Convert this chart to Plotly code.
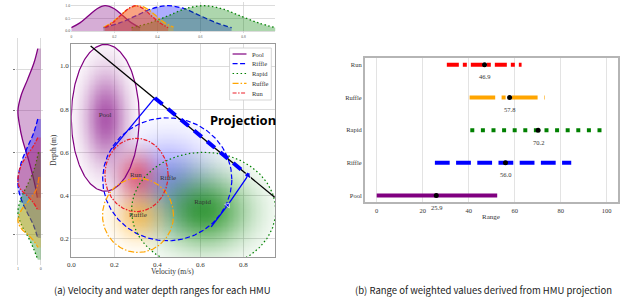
import numpy as np
import plotly.graph_objects as go

W, H = 643, 302
SERIF = "Liberation Serif"

# ---------------- data ----------------
hmu_names = ["Pool", "Riffle", "Rapid", "Ruffle", "Run"]
hmu_rgb = [(128, 0, 128), (0, 0, 255), (0, 128, 0), (255, 165, 0), (235, 30, 40)]
hmu_dash_small = ["solid", "5px,2.5px", "1.5px,2.5px", "6px,2px,1.5px,2px", "4px,1.5px,1.5px,1.5px"]

# ellipse (velocity-depth range) parameters
ell_cx = [0.158, 0.446, 0.615, 0.310, 0.303]
ell_cy = [0.760, 0.475, 0.330, 0.308, 0.495]
ell_rx = [0.158, 0.300, 0.335, 0.165, 0.147]
ell_ry = [0.340, 0.285, 0.270, 0.172, 0.170]
grad_alpha = [0.65, 0.40, 0.75, 0.55, 0.55]
label_x = [0.157, 0.450, 0.610, 0.310, 0.300]
label_y = [0.770, 0.480, 0.370, 0.310, 0.495]

# top marginal (velocity) curves
top_x = [
    [0.00, 0.04, 0.08, 0.12, 0.157, 0.20, 0.24, 0.28, 0.32],
    [0.15, 0.225, 0.30, 0.375, 0.45, 0.525, 0.60, 0.675, 0.745],
    [0.28, 0.365, 0.45, 0.53, 0.615, 0.70, 0.785, 0.87, 0.95],
    [0.15, 0.19, 0.23, 0.27, 0.31, 0.35, 0.39, 0.43, 0.475],
    [0.157, 0.195, 0.23, 0.265, 0.30, 0.335, 0.37, 0.41, 0.45],
]
top_v = [
    [0.13, 0.32, 0.60, 0.88, 1.00, 0.88, 0.60, 0.32, 0.13],
    [0.13, 0.32, 0.60, 0.88, 1.00, 0.88, 0.60, 0.32, 0.13],
    [0.13, 0.32, 0.60, 0.88, 1.00, 0.88, 0.60, 0.32, 0.13],
    [0.15, 0.35, 0.63, 0.89, 1.00, 0.89, 0.63, 0.35, 0.15],
    [0.14, 0.35, 0.62, 0.88, 1.00, 0.88, 0.62, 0.33, 0.13],
]

# left marginal (depth) curves
left_y = [
    [1.10, 1.03, 0.95, 0.87, 0.80, 0.73, 0.66, 0.58, 0.50, 0.44, 0.38],
    [0.76, 0.69, 0.62, 0.54, 0.45, 0.38, 0.31, 0.25, 0.185],
    [0.60, 0.52, 0.45, 0.38, 0.31, 0.25, 0.19, 0.13, 0.08],
    [0.48, 0.42, 0.37, 0.32, 0.27, 0.23, 0.20, 0.17, 0.14],
    [0.67, 0.63, 0.585, 0.53, 0.46, 0.42, 0.39, 0.355, 0.32],
]
left_v = [
    [0.13, 0.30, 0.58, 0.87, 1.00, 0.93, 0.80, 0.58, 0.38, 0.25, 0.15],
    [0.13, 0.32, 0.60, 0.88, 1.00, 0.88, 0.60, 0.33, 0.13],
    [0.10, 0.28, 0.55, 0.85, 1.00, 0.85, 0.55, 0.30, 0.13],
    [0.08, 0.20, 0.50, 0.85, 1.00, 0.85, 0.55, 0.30, 0.12],
    [0.13, 0.32, 0.60, 0.88, 1.00, 0.88, 0.60, 0.32, 0.13],
]

# projection line and riffle projection
proj_x = [0.090, 0.945]
proj_y = [1.093, 0.392]
riffle_seg_x = [0.388, 0.822]
riffle_seg_y = [0.852, 0.493]
riffle_perp1_x = [0.192, 0.388]
riffle_perp1_y = [0.617, 0.852]
riffle_perp2_x = [0.650, 0.727, 0.822]
riffle_perp2_y = [0.255, 0.355, 0.493]

# right panel: weighted value ranges
range_cats = ["Pool", "Riffle", "Rapid", "Ruffle", "Run"]
range_lo = [0.0, 25.3, 40.7, 40.4, 30.5]
range_hi = [52.4, 84.6, 99.6, 73.0, 63.0]
range_mean = [25.9, 56.0, 70.2, 57.8, 46.9]
range_dash = ["solid", "14.8px,6.4px", "4px,6.6px", "25.6px,6.4px,4px,6.4px", "12px,4px,4px,4px"]
range_colors = ["purple", "blue", "green", "orange", "red"]


def rgba(c, a):
    return f"rgba({c[0]},{c[1]},{c[2]},{a})"


def px(x):
    return x / W


def py(y):
    return 1 - y / H


fig = go.Figure()

# ---------- gradients ----------
gx = np.linspace(0, 0.95, 170)
gy = np.linspace(0.05, 1.15, 190)
GX, GY = np.meshgrid(gx, gy)
for i, n in enumerate(hmu_names):
    r2 = ((GX - ell_cx[i]) / ell_rx[i]) ** 2 + ((GY - ell_cy[i]) / ell_ry[i]) ** 2
    z = np.where(r2 <= 1, np.exp(-2.6 * r2), 0.0)
    fig.add_trace(go.Heatmap(
        x=gx, y=gy, z=z, zmin=0, zmax=1, zsmooth="best", showscale=False,
        colorscale=[[0, rgba(hmu_rgb[i], 0)], [1, rgba(hmu_rgb[i], grad_alpha[i])]],
        hoverinfo="skip", xaxis="x", yaxis="y"))

# ---------- ellipse outlines ----------
th = np.linspace(0, 2 * np.pi, 240)
for i, n in enumerate(hmu_names):
    fig.add_trace(go.Scatter(
        x=ell_cx[i] + ell_rx[i] * np.cos(th), y=ell_cy[i] + ell_ry[i] * np.sin(th),
        mode="lines", line=dict(color=rgba(hmu_rgb[i], 1), width=1.2, dash=hmu_dash_small[i]),
        showlegend=False, hoverinfo="skip", xaxis="x", yaxis="y"))

fig.add_trace(go.Scatter(x=label_x, y=label_y, text=hmu_names, mode="text",
                         textfont=dict(family=SERIF, size=7, color="#333"),
                         showlegend=False, hoverinfo="skip", xaxis="x", yaxis="y"))

# projection
fig.add_trace(go.Scatter(x=proj_x, y=proj_y, mode="lines", line=dict(color="black", width=1.3),
                         showlegend=False, hoverinfo="skip", xaxis="x", yaxis="y"))
fig.add_trace(go.Scatter(x=riffle_perp1_x, y=riffle_perp1_y, mode="lines",
                         line=dict(color="blue", width=1.3), showlegend=False,
                         hoverinfo="skip", xaxis="x", yaxis="y"))
fig.add_trace(go.Scatter(x=riffle_perp2_x, y=riffle_perp2_y, mode="lines+markers",
                         line=dict(color="blue", width=1.3),
                         marker=dict(symbol="triangle-up", size=[0, 5, 7], color="blue",
                                     angleref="previous"),
                         showlegend=False, hoverinfo="skip", xaxis="x", yaxis="y"))
fig.add_trace(go.Scatter(x=riffle_seg_x, y=riffle_seg_y, mode="lines",
                         line=dict(color="blue", width=4, dash="10px,7px"), showlegend=False,
                         hoverinfo="skip", xaxis="x", yaxis="y"))

# ---------- top marginal ----------
for i, n in enumerate(hmu_names):
    fig.add_trace(go.Scatter(
        x=top_x[i], y=top_v[i], mode="lines", line_shape="spline",
        line=dict(color=rgba(hmu_rgb[i], 1), width=1.3, dash=hmu_dash_small[i]),
        fill="tozeroy", fillcolor=rgba(hmu_rgb[i], 0.32),
        showlegend=False, hoverinfo="skip", xaxis="x2", yaxis="y2"))

# ---------- left marginal ----------
for i, n in enumerate(hmu_names):
    fig.add_trace(go.Scatter(
        x=left_v[i], y=left_y[i], mode="lines", line_shape="spline",
        line=dict(color=rgba(hmu_rgb[i], 1), width=1.3, dash=hmu_dash_small[i]),
        fill="tozerox", fillcolor=rgba(hmu_rgb[i], 0.32),
        showlegend=False, hoverinfo="skip", xaxis="x3", yaxis="y3"))

# ---------- right panel ----------
for i, c in enumerate(range_cats):
    fig.add_trace(go.Scatter(
        x=[range_lo[i], range_hi[i]], y=[i, i], mode="lines",
        line=dict(color=range_colors[i], width=4, dash=range_dash[i]),
        showlegend=False, hoverinfo="skip", xaxis="x4", yaxis="y4"))
fig.add_trace(go.Scatter(x=range_mean, y=list(range(len(range_cats))), mode="markers",
                         marker=dict(color="black", size=5), showlegend=False,
                         hoverinfo="skip", xaxis="x4", yaxis="y4"))

annotations = []
for i, m in enumerate(range_mean):
    annotations.append(dict(x=m, y=i, xref="x4", yref="y4", text=f"{m:.1f}", showarrow=False,
                            xanchor="center", yanchor="middle",
                            yshift=-12, font=dict(family=SERIF, size=6.5, color="#333")))


def pann(x, y, text, size, family=SERIF, color="#333", **kw):
    d = dict(x=px(x), y=py(y), xref="paper", yref="paper", text=text, showarrow=False,
             xanchor="center", yanchor="middle", font=dict(family=family, size=size, color=color))
    d.update(kw)
    return d


annotations += [
    dict(x=0.80, y=0.75, xref="x", yref="y", text="<b>Projection</b>", showarrow=False,
         xanchor="center", yanchor="middle",
         font=dict(family="Noto Sans", size=13, color="black")),
    pann(170, 271, "Velocity (m/s)", 7.5),
    pann(49, 150, "Depth (m)", 7.5, textangle=-90),
    pann(490, 216.5, "Range", 7),
    pann(159, 290, "(a) Velocity and water depth ranges for each HMU", 9.5,
         family="Noto Sans CJK KR", color="#222"),
    pann(483, 290, "(b) Range of weighted values derived from HMU projection", 9.5,
         family="Noto Sans CJK KR", color="#222"),
]

# manual legend in main panel
shapes = [dict(type="rect", xref="paper", yref="paper", x0=px(227), x1=px(269), y0=py(100), y1=py(48),
               line=dict(color="#cccccc", width=0.8), fillcolor="white", layer="above")]
leg_y = [54, 63.7, 73.5, 83.3, 93]
for i, n in enumerate(hmu_names):
    shapes.append(dict(type="line", xref="paper", yref="paper", x0=px(230), x1=px(244),
                       y0=py(leg_y[i]), y1=py(leg_y[i]), layer="above",
                       line=dict(color=rgba(hmu_rgb[i], 1), width=1.2, dash=hmu_dash_small[i])))
    annotations.append(pann(248, leg_y[i], n, 6.5, xanchor="left"))

grid = "rgba(205,205,205,0.7)"
tickf = dict(family=SERIF, size=7, color="#333")
fig.update_layout(
    width=W, height=H, margin=dict(l=0, r=0, t=0, b=0),
    plot_bgcolor="white", paper_bgcolor="white", showlegend=False,
    xaxis=dict(domain=[px(67.7), px(273)], range=[0, 0.948], tickvals=[0, 0.2, 0.4, 0.6, 0.8],
               ticktext=["0.0", "0.2", "0.4", "0.6", "0.8"], tickfont=tickf, ticks="",
               showgrid=True, gridcolor=grid, gridwidth=0.7, zeroline=False,
               showline=True, mirror=True, linecolor="#999", linewidth=1.3),
    yaxis=dict(domain=[py(257), py(44)], range=[0.115, 1.102], tickvals=[0.2, 0.4, 0.6, 0.8, 1.0],
               ticktext=["0.2", "0.4", "0.6", "0.8", "1.0"], tickfont=tickf, ticks="",
               showgrid=True, gridcolor=grid, gridwidth=0.7, zeroline=False,
               showline=True, mirror=True, linecolor="#999", linewidth=1.3),
    xaxis2=dict(domain=[px(67.7), px(273)], anchor="y2", range=[0, 0.948],
                tickvals=[0, 0.2, 0.4, 0.6, 0.8], ticktext=["0", "0.2", "0.4", "0.6", "0.8"],
                tickfont=dict(family=SERIF, size=3.5, color="#555"), showgrid=True,
                gridcolor=grid, gridwidth=0.6, zeroline=False),
    yaxis2=dict(domain=[py(33), py(2)], anchor="x2", range=[-0.079, 1.146],
                tickvals=[0, 0.5, 1.0], ticktext=["0.0", "0.5", "1.0"],
                tickfont=dict(family=SERIF, size=4, color="#555"), showgrid=True,
                gridcolor=grid, gridwidth=0.6, zeroline=False),
    xaxis3=dict(domain=[px(12), px(39)], anchor="y3", range=[1.087, -0.087], tickvals=[1, 0],
                ticktext=["1", "0"], tickfont=dict(family=SERIF, size=4, color="#555"),
                showgrid=True, gridcolor=grid, gridwidth=0.6, zeroline=False),
    yaxis3=dict(domain=[py(265), py(38)], anchor="x3", range=[0.055, 1.151],
                tickvals=[0.2, 0.4, 0.6, 0.8, 1.0], showticklabels=False, ticks="outside",
                ticklen=2, tickcolor="#777", showgrid=True, gridcolor=grid, gridwidth=0.6,
                zeroline=False),
    xaxis4=dict(domain=[px(363), px(618)], anchor="y4", range=[-5.2, 105],
                tickvals=[0, 20, 40, 60, 80, 100], tickfont=dict(family=SERIF, size=6.5, color="#333"),
                ticks="", ticklabelstandoff=1, showgrid=True, gridcolor="rgba(220,220,220,0.8)",
                gridwidth=0.7, zeroline=False, showline=True, mirror=True, linecolor="#b5b5b5",
                linewidth=1.5),
    yaxis4=dict(domain=[py(202), py(58.3)], anchor="x4", range=[-0.2, 4.2],
                tickvals=list(range(len(range_cats))), ticktext=range_cats,
                tickfont=dict(family=SERIF, size=6.5, color="#333"), ticks="", showgrid=False,
                zeroline=False, showline=True, mirror=True, linecolor="#b5b5b5", linewidth=1.5),
    annotations=annotations, shapes=shapes,
)

fig.write_html("out.html")
